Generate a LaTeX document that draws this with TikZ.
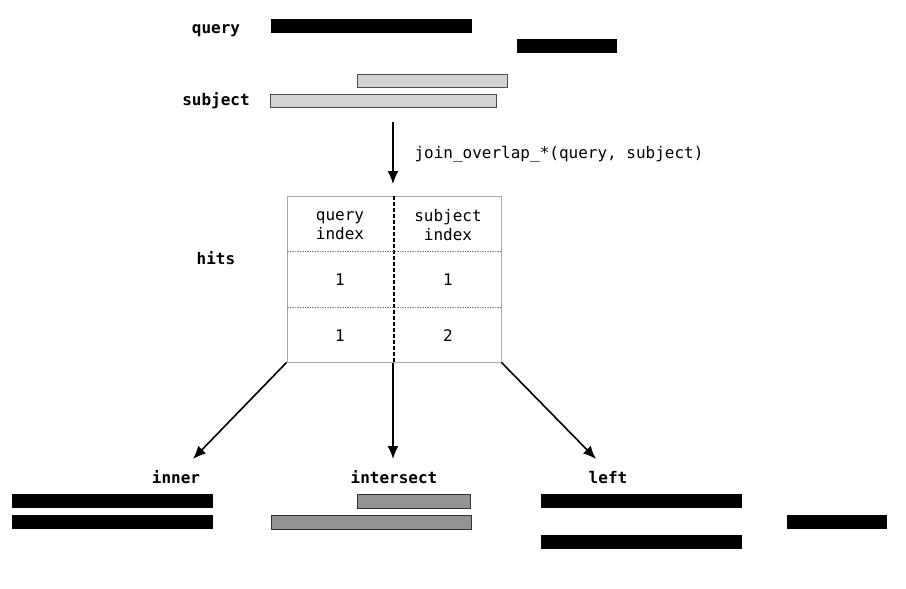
\documentclass[tikz,border=0pt]{standalone}
\usepackage{fontspec}
\setmonofont{DejaVu Sans Mono}
\usetikzlibrary{arrows.meta}
\definecolor{subjcolor}{HTML}{D3D3D3}
\definecolor{hitcolor}{HTML}{939393}
\definecolor{gridcolor}{HTML}{A8A8A8}
\tikzset{
  qbar/.style={fill=black,draw=none},
  sbar/.style={fill=subjcolor,draw=black!70,line width=0.8pt},
  ibar/.style={fill=hitcolor,draw=black!80,line width=0.8pt},
  lbl/.style={font=\ttfamily\bfseries\fontsize{16}{19}\selectfont},
  txt/.style={font=\ttfamily\fontsize{16}{19}\selectfont,align=center},
  flow/.style={draw=black,line width=1.6pt,-{Latex[length=13pt,width=11pt]}},
  tbl/.style={draw=gridcolor,line width=0.8pt},
  rowline/.style={draw=gray,line width=0.5pt,dash pattern=on 1.5pt off 1pt},
  colline/.style={draw=black,line width=1.2pt,dash pattern=on 4pt off 2pt}
}
\begin{document}
\begin{tikzpicture}[x=1pt,y=-1pt]
  \useasboundingbox (0,0) rectangle (906,589);
  % input ranges
  \node (query) [lbl] at (216,31) {query};
  \node (subject) [lbl] at (216,101) {subject};
  \draw (271,19) rectangle (472,33) [qbar];
  \draw (517,39) rectangle (617,53) [qbar];
  \draw (357,74) rectangle (507,87) [sbar];
  \draw (270,94) rectangle (496,107) [sbar];
  % join
  \coordinate (JTOP) at (393,122);
  \coordinate (JBOT) at (393,184);
  \draw (JTOP) -- (JBOT) [flow];
  \node (call) [txt,anchor=west] at (411,154) {join\_overlap\_*(query, subject)};
  % hits table
  \node (hits) [lbl] at (216,258) {hits};
  \node (tab) [tbl,minimum width=214pt,minimum height=166pt,inner sep=0pt] at (394,279) {};
  \draw (tab.north) -- (tab.south) [colline];
  \draw (287,251) -- (501,251) [rowline];
  \draw (287,307) -- (501,307) [rowline];
  \node (qhead) [txt] at (340,226) {query\\index};
  \node (shead) [txt] at (448,225) {subject\\index};
  \node (q1) [txt] at (340,280) {1};
  \node (s1) [txt] at (448,280) {1};
  \node (q2) [txt] at (340,336) {1};
  \node (s2) [txt] at (448,336) {2};
  % result arrows
  \coordinate (TMID) at (393,363);
  \coordinate (AINNER) at (193,459);
  \coordinate (AINTER) at (393,459);
  \coordinate (ALEFT) at (596,459);
  \draw (tab.south west) -- (AINNER) [flow];
  \draw (TMID) -- (AINTER) [flow];
  \draw (tab.south east) -- (ALEFT) [flow];
  \node (inner) [lbl] at (176,477) {inner};
  \node (intersect) [lbl] at (394,477) {intersect};
  \node (left) [lbl] at (608,478) {left};
  % inner
  \draw (12,494) rectangle (213,508) [qbar];
  \draw (12,515) rectangle (213,529) [qbar];
  % intersect
  \draw (357,494) rectangle (470,508) [ibar];
  \draw (271,515) rectangle (471,529) [ibar];
  % left
  \draw (541,494) rectangle (742,508) [qbar];
  \draw (787,515) rectangle (887,529) [qbar];
  \draw (541,535) rectangle (742,549) [qbar];
\end{tikzpicture}
\end{document}
